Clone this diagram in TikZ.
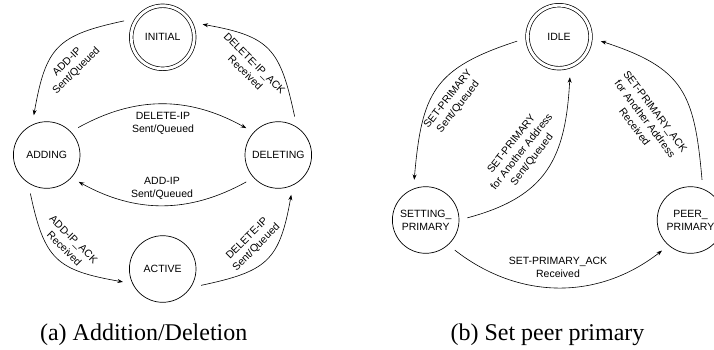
\documentclass[tikz,border=0pt]{standalone}
\usepackage{fontspec}
\setmainfont{Liberation Serif}
\newfontfamily\arialfont{Liberation Sans}
\usetikzlibrary{arrows.meta}

\begin{document}
\begin{tikzpicture}[x=1pt,y=1pt,
        st/.style={circle,draw,line width=0.7pt,minimum size=66.6pt,inner sep=0pt,outer sep=8.5pt,
            align=center,font=\arialfont\fontsize{10.5}{13}\selectfont},
        startst/.style={st,double,double distance=2.9pt,minimum size=63pt,outer sep=10.5pt},
        tr/.style={->,line width=0.6pt},
        lbl/.style={align=center,inner sep=1pt,font=\arialfont\fontsize{10.5}{13}\selectfont},
        captxt/.style={anchor=base,font=\fontsize{24}{28}\selectfont},
        >={Stealth[length=5.5pt,width=4pt]}]
    \useasboundingbox (0,0) rectangle (714,-349);

    % (a) addition/deletion
    \node [startst] (initial) at (162.7,-37.3) {INITIAL};
    \node [st] (adding) at (46.7,-155) {ADDING};
    \node [st] (deleting) at (278.3,-155) {DELETING};
    \node [st] (active) at (162.7,-269) {ACTIVE};

    \draw [tr] (initial.157) to[out=192,in=80,looseness=1.35] (adding.108);
    \draw [tr] (adding.41) to[out=29,in=151] (deleting.140);
    \draw [tr] (deleting.220) to[out=209,in=331] (adding.320);
    \draw [tr] (adding.247) to[out=282,in=170,looseness=1.35] (active.198);
    \draw [tr] (active.337) to[out=12,in=260,looseness=1.35] (deleting.288);
    \draw [tr] (deleting.67) to[out=102,in=350,looseness=1.35] (initial.18);

    \node [lbl,rotate=45] (addsent) at (72,-66.5) {ADD-IP\\Sent/Queued};
    \node [lbl] (delsent) at (163,-123) {DELETE-IP\\Sent/Queued};
    \node [lbl] (readd) at (162,-188) {ADD-IP\\Sent/Queued};
    \node [lbl,rotate=-45] (addack) at (69,-244) {ADD-IP\_ACK\\Received};
    \node [lbl,rotate=45] (redel) at (252,-243) {DELETE-IP\\Sent/Queued};
    \node [lbl,rotate=-45] (delack) at (250,-68) {DELETE-IP\_ACK\\Received};

    \node [captxt] (capa) at (143.7,-340) {(a) Addition/Deletion};

    % (b) set peer primary
    \node [startst] (idle) at (559,-36.7) {IDLE};
    \node [st] (setting) at (425.7,-220) {SETTING\_\\PRIMARY};
    \node [st] (peer) at (690.5,-220) {PEER\_\\PRIMARY};

    \draw [tr] (idle.186) to[out=198,in=85,looseness=1.3] (setting.106);
    \draw [tr] (setting.3) to[out=15,in=267,looseness=1.2] (idle.285);
    \draw [tr] (peer.74) to[out=95,in=342,looseness=1.3] (idle.354);
    \draw [tr] (setting.314) to[out=322,in=218] (peer.227);

    \node [lbl,rotate=52] (setsent) at (453.3,-103) {SET-PRIMARY\\Sent/Queued};
    \node [lbl,rotate=52] (othersent) at (522,-152) {SET-PRIMARY\\for Another Address\\Sent/Queued};
    \node [lbl,rotate=-53] (otherack) at (645,-119) {SET-PRIMARY\_ACK\\for Another Address\\Received};
    \node [lbl] (setack) at (558,-267.5) {SET-PRIMARY\_ACK\\Received};

    \node [captxt] (capb) at (547.5,-340) {(b) Set peer primary};
\end{tikzpicture}
\end{document}
